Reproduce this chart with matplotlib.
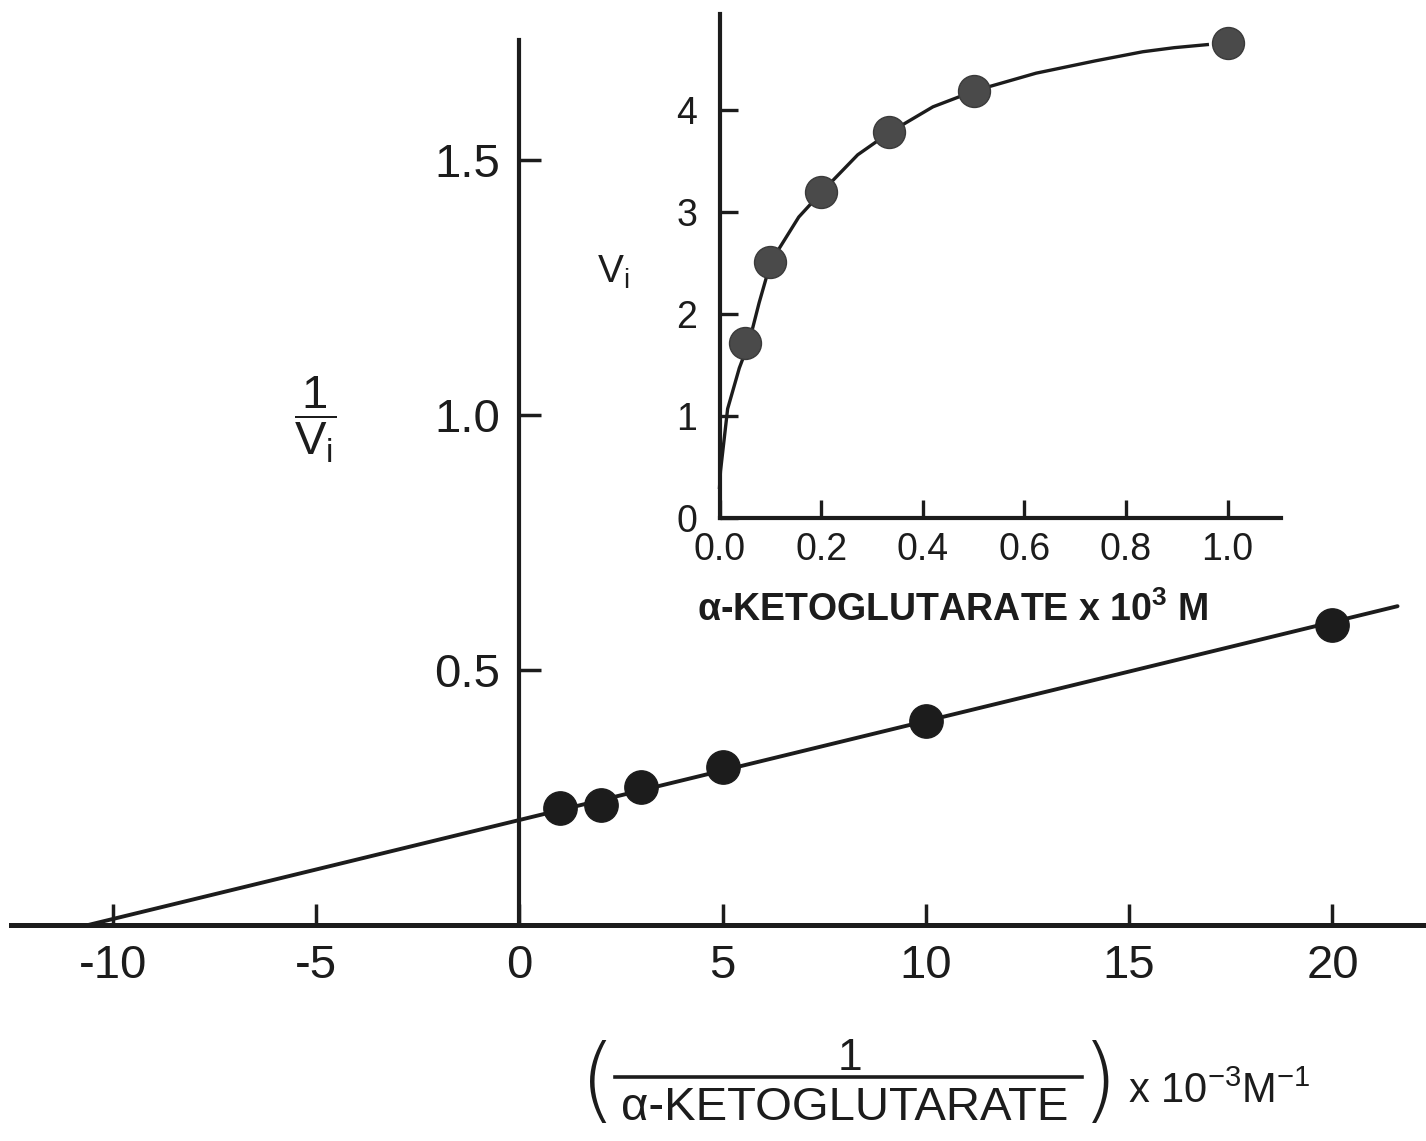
import numpy as np
import matplotlib.pyplot as plt
from matplotlib.lines import Line2D

plt.rcParams['font.family'] = ['Liberation Sans', 'DejaVu Sans']
plt.rcParams['axes.unicode_minus'] = False
plt.rcParams['mathtext.fontset'] = 'custom'
plt.rcParams['mathtext.rm'] = 'Liberation Sans'
plt.rcParams['mathtext.it'] = 'Liberation Sans'
plt.rcParams['mathtext.bf'] = 'Liberation Sans:bold'

# Lineweaver-Burk data (main plot)
inv_s = [1, 2, 3, 5, 10, 20]
inv_v = [0.229, 0.235, 0.271, 0.310, 0.400, 0.588]
fit_x = [-10.6, 21.6]
fit_y = [0.0, 0.625]
main_xticks = [-10, -5, 0, 5, 10, 15, 20]
main_yticks = [0.5, 1.0, 1.5]
main_ytick_labels = ["0.5", "1.0", "1.5"]

# direct plot (inset)
conc = [0.05, 0.1, 0.2, 0.333, 0.5, 1.0]
vel = [1.72, 2.51, 3.20, 3.78, 4.19, 4.66]
curve_x = [0.0, 0.002, 0.016, 0.039, 0.058, 0.078, 0.101, 0.156, 0.202,
           0.272, 0.335, 0.42, 0.504, 0.623, 0.739, 0.833, 0.895, 0.96]
curve_y = [0.3, 0.46, 1.07, 1.47, 1.72, 2.11, 2.51, 2.95, 3.20,
           3.56, 3.78, 4.03, 4.19, 4.36, 4.48, 4.57, 4.61, 4.64]
ins_xticks = [0.0, 0.2, 0.4, 0.6, 0.8, 1.0]
ins_yticks = [0, 1, 2, 3, 4]

W, H = 1426, 1141
ink = "#1c1c1c"

def fx(px):
    return px / W

def fy(py):
    return 1 - py / H

fig = plt.figure(figsize=(W / 100, H / 100), dpi=100)

# ---- main axes ----
ax = fig.add_axes([fx(11), 0.0, fx(1426) - fx(11), fy(40)])
ax.set_xlim(-12.5, 22.3)
ax.set_ylim(-0.4235, 1.735)
ax.patch.set_alpha(0)
for s in ["top", "right"]:
    ax.spines[s].set_visible(False)
ax.spines["left"].set_position(("data", 0))
ax.spines["bottom"].set_position(("data", 0))
ax.spines["left"].set_bounds(0, 1.735)
ax.spines["left"].set_linewidth(3.0)
ax.spines["bottom"].set_linewidth(3.6)
ax.spines["left"].set_color(ink)
ax.spines["bottom"].set_color(ink)

ax.plot(fit_x, fit_y, color=ink, lw=2.8, solid_capstyle="round")
ax.plot(inv_s, inv_v, "o", ms=24, color=ink, mec=ink)

ax.set_xticks(main_xticks)
ax.set_xticklabels([str(t) for t in main_xticks])
ax.set_yticks(main_yticks)
ax.set_yticklabels(main_ytick_labels)
ax.tick_params(axis="x", direction="in", length=15, width=2.5, pad=14,
               labelsize=34, colors=ink)
ax.tick_params(axis="y", direction="in", length=16, width=2.5, pad=14,
               labelsize=34, colors=ink)

# y label 1/Vi
fig.text(fx(315), fy(420), r"$\dfrac{1}{V_i}$", fontsize=34, color=ink,
         ha="center", va="center")

# x label ( 1 / a-KETOGLUTARATE ) x 10^-3 M^-1
fig.text(fx(598), fy(1085), "(", fontsize=66, color=ink, ha="center",
         va="center", family=["DejaVu Sans"], weight="light")
fig.text(fx(1100), fy(1085), ")", fontsize=66, color=ink, ha="center",
         va="center", family=["DejaVu Sans"], weight="light")
fig.text(fx(850), fy(1058), "1", fontsize=32, color=ink, ha="center",
         va="center")
fig.add_artist(Line2D([fx(615), fx(1082)], [fy(1077), fy(1077)],
                      transform=fig.transFigure, color=ink, lw=2.6))
fig.text(fx(845), fy(1108), "α-KETOGLUTARATE", fontsize=34, color=ink,
         ha="center", va="center",
         family=["Liberation Sans Narrow", "Liberation Sans", "DejaVu Sans"])
fig.text(fx(1128), fy(1092), r"x 10$^{-3}$M$^{-1}$", fontsize=30,
         color=ink, ha="left", va="center")

# ---- inset ----
ix0, iy0 = 719.5, 518
ix1, iy1 = 1281, 14
ins = fig.add_axes([fx(ix0), fy(iy0), fx(ix1) - fx(ix0), fy(iy1) - fy(iy0)])
ins.set_xlim(0, 1.105)
ins.set_ylim(0, 4.94)
ins.patch.set_alpha(0)
for s in ["top", "right"]:
    ins.spines[s].set_visible(False)
for s in ["left", "bottom"]:
    ins.spines[s].set_linewidth(3.0)
    ins.spines[s].set_color(ink)

ins.plot(curve_x, curve_y, color=ink, lw=2.4, clip_on=False)
ins.plot(conc, vel, "o", ms=23, color="#4a4a4a", mec="#3a3a3a",
         clip_on=False)

ins.set_xticks(ins_xticks)
ins.set_xticklabels(["%.1f" % t for t in ins_xticks])
ins.set_yticks(ins_yticks)
ins.set_yticklabels([str(t) for t in ins_yticks])
ins.tick_params(axis="both", direction="in", length=13, width=2.4,
                labelsize=27, colors=ink)
ins.tick_params(axis="x", pad=10)
ins.tick_params(axis="y", pad=16)

ins.set_xlabel(r"α-KETOGLUTARATE x 10$^{\mathbf{3}}$ M", fontsize=27,
               weight="bold", color=ink)
ins.xaxis.set_label_coords((953 - ix0) / (ix1 - ix0), -(610 - iy0) / (iy0 - iy1))
ins.xaxis.label.set_va("center")
fig.text(fx(613), fy(272), r"V$_\mathrm{i}$", fontsize=28, color=ink,
         ha="center", va="center")

fig.savefig("out.png", dpi=100, facecolor="white")
